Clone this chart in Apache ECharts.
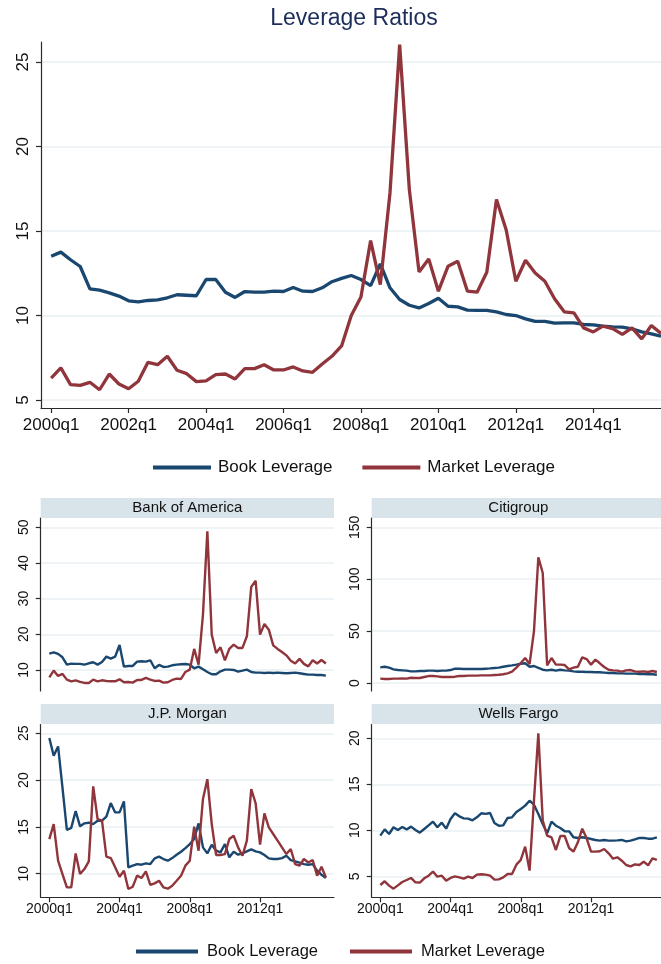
<!DOCTYPE html>
<html>
<head>
<meta charset="utf-8">
<title>Leverage Ratios</title>
<script src="https://cdn.jsdelivr.net/npm/echarts@6/dist/echarts.min.js"></script>
<style>
  html, body { margin: 0; padding: 0; background: #fff; }
  #chart { width: 661px; height: 964px; }
</style>
</head>
<body>
<div id="chart"></div>
<script>
// quarters 2000q1 .. 2015q4
var quarters = [];
for (var y = 2000; y <= 2015; y++) {
  for (var q = 1; q <= 4; q++) quarters.push(y + "q" + q);
}
var topTicks = ["2000q1", "2002q1", "2004q1", "2006q1", "2008q1", "2010q1", "2012q1", "2014q1"];
var panelTicks = ["2000q1", "2004q1", "2008q1", "2012q1"];

var topYTicks = [5, 10, 15, 20, 25];
var boaYTicks = [10, 20, 30, 40, 50];
var citiYTicks = [0, 50, 100, 150];
var jpmYTicks = [10, 15, 20, 25];
var wfYTicks = [5, 10, 15, 20];

// aggregate
var bookAll = [13.5, 13.75, 13.3, 12.9, 11.58, 11.5, 11.34, 11.15, 10.87, 10.81, 10.89, 10.93, 11.05, 11.23, 11.2, 11.17,
  12.13, 12.13, 11.38, 11.07, 11.42, 11.38, 11.38, 11.44, 11.42, 11.66, 11.44, 11.42, 11.64, 12.0, 12.2, 12.37,
  12.13, 11.77, 13.05, 11.64, 10.95, 10.61, 10.45, 10.71, 11.02, 10.55, 10.51, 10.32, 10.3, 10.3, 10.22, 10.06,
  10.0, 9.8, 9.65, 9.66, 9.55, 9.57, 9.57, 9.47, 9.45, 9.37, 9.33, 9.31, 9.21, 9.03, 8.92, 8.78];
var marketAll = [6.3, 6.9, 5.91, 5.87, 6.05, 5.61, 6.54, 5.95, 5.67, 6.11, 7.23, 7.09, 7.59, 6.76, 6.56, 6.09,
  6.13, 6.5, 6.54, 6.25, 6.86, 6.86, 7.09, 6.78, 6.78, 6.96, 6.72, 6.64, 7.13, 7.59, 8.2, 10.0,
  11.1, 14.43, 11.83, 17.25, 26.02, 17.45, 12.58, 13.35, 11.44, 12.92, 13.21, 11.44, 11.38, 12.56, 16.86, 15.08,
  12.03, 13.27, 12.52, 12.03, 10.99, 10.22, 10.16, 9.27, 9.03, 9.37, 9.23, 8.88, 9.27, 8.62, 9.41, 8.94];

// Bank of America
var bookBoA = [14.6, 14.95, 14.5, 13.55, 11.5, 11.78, 11.7, 11.7, 11.5, 11.87, 12.15, 11.5, 12.24, 13.74, 13.18, 13.74,
  17.0, 10.93, 11.12, 11.12, 12.34, 12.43, 12.34, 12.71, 10.47, 11.4, 10.84, 10.93, 11.31, 11.5, 11.59, 11.68,
  11.5, 10.47, 10.93, 10.19, 9.44, 8.79, 8.79, 9.63, 10.1, 10.1, 10.0, 9.53, 9.81, 10.1, 9.44, 9.25,
  9.25, 9.16, 9.25, 9.16, 9.25, 9.16, 9.07, 9.16, 9.25, 9.07, 8.88, 8.69, 8.69, 8.6, 8.6, 8.41];
var marketBoA = [7.94, 9.81, 8.32, 8.88, 7.29, 6.82, 7.1, 6.64, 6.36, 6.36, 7.29, 6.82, 7.1, 6.92, 6.82, 6.82,
  7.38, 6.54, 6.64, 6.45, 7.2, 7.2, 7.76, 7.29, 6.92, 7.0, 6.45, 6.54, 7.2, 7.57, 7.48, 9.44,
  10.1, 15.9, 11.5, 25.5, 48.9, 19.9, 14.77, 16.36, 12.7, 15.9, 17.1, 16.17, 16.17, 19.44, 33.3, 35.0,
  19.9, 22.9, 21.3, 16.9, 15.9, 15.05, 14.1, 12.6, 11.8, 13.1, 11.7, 11.0, 12.7, 11.8, 12.8, 11.8];

// Citigroup
var bookCiti = [15.1, 15.7, 14.8, 13.2, 12.5, 12.2, 11.9, 11.2, 11.2, 11.6, 11.6, 11.9, 11.9, 11.6, 11.9, 11.9,
  12.5, 13.8, 13.8, 13.5, 13.5, 13.5, 13.5, 13.5, 13.8, 14.1, 14.5, 14.8, 15.7, 16.4, 17.0, 17.7,
  18.6, 19.0, 15.7, 16.4, 14.5, 12.8, 12.2, 12.8, 11.9, 12.8, 12.2, 11.9, 11.2, 10.9, 10.9, 10.6,
  10.6, 10.3, 10.3, 10.0, 9.6, 9.6, 9.3, 9.3, 9.0, 9.0, 9.0, 8.7, 8.7, 8.4, 8.4, 8.0];
var marketCiti = [4.2, 3.9, 3.9, 4.2, 4.2, 4.5, 4.2, 5.1, 4.8, 4.8, 5.8, 6.7, 6.7, 6.4, 5.8, 5.8,
  5.8, 6.1, 6.7, 6.7, 7.1, 7.1, 7.1, 7.4, 7.4, 7.4, 7.7, 8.0, 8.4, 9.3, 10.9, 14.8,
  19.3, 24.1, 18.3, 49.8, 121.1, 106.0, 17.0, 24.1, 17.7, 17.7, 17.3, 13.2, 14.8, 15.7, 24.7, 23.1,
  17.7, 22.5, 19.0, 15.4, 12.8, 12.2, 11.9, 10.9, 12.2, 12.5, 11.2, 10.9, 11.2, 10.6, 11.6, 10.6];

// J.P. Morgan
var bookJPM = [24.5, 22.6, 23.6, 19.2, 14.67, 14.9, 16.7, 15.06, 15.38, 15.45, 15.3, 15.66, 15.66, 16.1, 17.55, 16.55,
  16.55, 17.73, 10.68, 10.86, 11.03, 10.96, 11.1, 11.03, 11.64, 11.82, 11.57, 11.39, 11.67, 12.03, 12.35, 12.74,
  13.17, 13.7, 15.38, 12.81, 12.17, 13.1, 12.46, 12.28, 13.17, 11.75, 12.35, 12.03, 12.17, 12.39, 12.6, 12.39,
  12.28, 12.0, 11.64, 11.57, 11.57, 11.67, 11.92, 11.46, 11.32, 11.18, 11.03, 10.96, 11.03, 10.32, 9.89, 9.54];
var marketJPM = [13.7, 15.3, 11.39, 9.96, 8.54, 8.54, 12.17, 9.96, 10.5, 11.32, 19.33, 15.84, 15.66, 11.82, 11.67, 10.68,
  9.68, 10.32, 8.36, 8.61, 9.79, 9.54, 10.25, 8.82, 8.97, 9.25, 8.54, 8.4, 8.72, 9.25, 9.79, 10.86,
  11.39, 15.02, 12.46, 17.98, 20.1, 15.3, 12.0, 12.0, 12.1, 13.7, 14.06, 12.81, 11.92, 13.53, 19.05, 17.52,
  13.1, 16.45, 14.95, 14.24, 13.53, 12.81, 12.1, 12.64, 11.03, 10.86, 11.57, 11.2, 11.46, 9.79, 10.75, 9.6];

// Wells Fargo
var bookWF = [9.42, 10.1, 9.6, 10.33, 10.04, 10.36, 10.1, 10.4, 10.04, 9.75, 10.14, 10.54, 10.94, 10.33, 10.83, 10.18,
  11.23, 11.85, 11.52, 11.3, 11.27, 11.09, 11.41, 11.85, 11.78, 11.88, 10.8, 10.5, 10.54, 11.34, 11.41, 11.99,
  12.32, 12.68, 13.22, 12.79, 11.78, 10.69, 9.67, 10.94, 10.5, 10.25, 9.89, 9.89, 9.24, 9.17, 9.24, 9.17,
  9.06, 8.95, 8.88, 8.95, 8.88, 8.88, 8.91, 8.95, 8.8, 8.88, 9.02, 9.17, 9.17, 9.09, 9.09, 9.24];
var marketWF = [4.06, 4.46, 3.99, 3.66, 4.02, 4.38, 4.6, 4.82, 4.35, 4.31, 4.78, 5.07, 5.51, 4.96, 5.07, 4.53,
  4.82, 5.0, 4.89, 4.75, 4.96, 4.82, 5.18, 5.22, 5.18, 5.07, 4.64, 4.67, 4.89, 5.25, 5.25, 6.27,
  6.78, 8.22, 5.62, 13.22, 20.54, 11.05, 9.42, 9.24, 7.86, 9.38, 9.38, 8.08, 7.68, 8.7, 10.18, 9.13,
  7.68, 7.68, 7.72, 7.97, 7.5, 6.92, 7.07, 6.7, 6.23, 6.09, 6.3, 6.23, 6.59, 6.2, 6.96, 6.78];

var BOOK = "Book Leverage", MARKET = "Market Leverage";
var navy = "#1a476f", maroon = "#90353b", gridColor = "#e8f0f2", axisColor = "#2b2b2b";
var font = "'Liberation Sans', Arial, sans-serif";

var toPairs = function (arr) { return arr.map(function (v, i) { return [i, v]; }); };
var idx = function (labels) { return labels.map(function (l) { return quarters.indexOf(l); }); };

// x axis builder
var makeX = function (grid, min, max, ticks, show, size, margin) {
  return {
    gridIndex: grid, type: "value", min: min, max: max, show: show,
    axisLine: { show: true, onZero: false, lineStyle: { color: axisColor, width: 1.2 } },
    axisTick: { show: true, customValues: ticks, length: 5, lineStyle: { color: axisColor, width: 1.2 } },
    axisLabel: {
      customValues: ticks, margin: margin, fontSize: size, fontFamily: font, color: "#111",
      formatter: function (v) { return quarters[Math.round(v)]; }
    },
    splitLine: { show: false }
  };
};
// y axis builder
var makeY = function (grid, min, max, ticks, size, margin) {
  return {
    gridIndex: grid, type: "value", min: min, max: max,
    axisLine: { show: true, onZero: false, lineStyle: { color: axisColor, width: 1.2 } },
    axisTick: { show: true, customValues: ticks, length: 5, lineStyle: { color: axisColor, width: 1.2 } },
    axisLabel: { customValues: ticks, rotate: 90, margin: margin, fontSize: size, fontFamily: font, color: "#111" },
    splitLine: { show: true, lineStyle: { color: gridColor, width: 1.5 } }
  };
};
var line = function (name, data, axis, color, width) {
  return {
    name: name, type: "line", data: toPairs(data), xAxisIndex: axis, yAxisIndex: axis,
    showSymbol: false, symbol: "none", color: color,
    lineStyle: { color: color, width: width }, emphasis: { disabled: true }
  };
};

var pw = 293.3; // width of each small panel
var headers = [
  { text: "Bank of America", x: 40.7, y: 498 },
  { text: "Citigroup", x: 371.7, y: 498 },
  { text: "J.P. Morgan", x: 40.7, y: 704 },
  { text: "Wells Fargo", x: 371.7, y: 704 }
];

var option = {
  animation: false,
  backgroundColor: "#fff",
  title: [{
    text: "Leverage Ratios", left: 354, top: 7, textAlign: "center", padding: 0,
    textStyle: { fontSize: 23, fontWeight: "normal", color: "#1c2d5a", fontFamily: font }
  }].concat(headers.map(function (h) {
    return {
      text: h.text, left: h.x + pw / 2, top: h.y + 2, textAlign: "center", padding: 0,
      textStyle: { fontSize: 15, fontWeight: "normal", color: "#111", fontFamily: font }
    };
  })),
  graphic: headers.map(function (h) {
    return { type: "rect", z: -1, shape: { x: h.x, y: h.y, width: pw, height: 20 }, style: { fill: "#d8e4ea" } };
  }),
  legend: [
    {
      data: [BOOK, MARKET], left: 148, top: 454, icon: "rect", itemWidth: 58, itemHeight: 4, itemGap: 30,
      textStyle: { fontSize: 17, fontFamily: font, color: "#111", padding: [0, 0, 0, 2] }, selectedMode: false
    },
    {
      data: [BOOK, MARKET], left: 131, top: 938, icon: "rect", itemWidth: 62, itemHeight: 4, itemGap: 32,
      textStyle: { fontSize: 16.5, fontFamily: font, color: "#111", padding: [0, 0, 0, 4] }, selectedMode: false
    }
  ],
  grid: [
    { left: 41, top: 42, width: 639.4, height: 366, outerBoundsMode: "none" },
    { left: 40.7, top: 518, width: pw, height: 173, outerBoundsMode: "none" },
    { left: 371.7, top: 518, width: pw, height: 173, outerBoundsMode: "none" },
    { left: 40.7, top: 724.5, width: pw, height: 172.8, outerBoundsMode: "none" },
    { left: 371.7, top: 724.5, width: pw, height: 172.8, outerBoundsMode: "none" }
  ],
  xAxis: [
    makeX(0, -1.05, 65, idx(topTicks), true, 17, 9),
    makeX(1, -1.96, 64.85, idx(panelTicks), false, 14, 5),
    makeX(2, -1.96, 64.85, idx(panelTicks), false, 14, 5),
    makeX(3, -1.96, 64.85, idx(panelTicks), true, 14, 5),
    makeX(4, -1.96, 64.85, idx(panelTicks), true, 14, 5)
  ],
  yAxis: [
    makeY(0, 4.53, 26.18, topYTicks, 17, 9),
    makeY(1, 4.1, 52.6, boaYTicks, 14, 10),
    makeY(2, -7.7, 159, citiYTicks, 14, 10),
    makeY(3, 7.48, 25.94, jpmYTicks, 14, 10),
    makeY(4, 2.72, 21.5, wfYTicks, 14, 10)
  ],
  series: [
    line(BOOK, bookAll, 0, navy, 3.3),
    line(MARKET, marketAll, 0, maroon, 3.3),
    line(BOOK, bookBoA, 1, navy, 2.4),
    line(MARKET, marketBoA, 1, maroon, 2.4),
    line(BOOK, bookCiti, 2, navy, 2.4),
    line(MARKET, marketCiti, 2, maroon, 2.4),
    line(BOOK, bookJPM, 3, navy, 2.4),
    line(MARKET, marketJPM, 3, maroon, 2.4),
    line(BOOK, bookWF, 4, navy, 2.4),
    line(MARKET, marketWF, 4, maroon, 2.4)
  ]
};

var myChart = echarts.init(document.getElementById("chart"));
myChart.setOption(option);
</script>
</body>
</html>
